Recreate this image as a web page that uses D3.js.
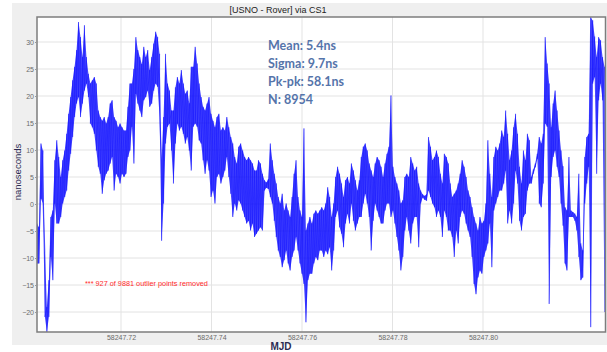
<!DOCTYPE html>
<html>
<head>
<meta charset="utf-8">
<script src="https://cdnjs.cloudflare.com/ajax/libs/d3/7.8.5/d3.min.js"></script>
<style>
  html, body { margin: 0; padding: 0; background: #ffffff; }
  svg { display: block; }
</style>
</head>
<body>
<div id="chart"></div>
<script>
// ---------------- DATA ----------------
const titleText = "[USNO - Rover] via CS1";
const xLabel = "MJD";
const yLabel = "nanoseconds";
const xTicks = [58247.72, 58247.74, 58247.76, 58247.78, 58247.80];
const yTicks = [-20, -15, -10, -5, 0, 5, 10, 15, 20, 25, 30];
const xDomain = [58247.70144, 58247.82707];
const yDomain = [-23.7, 34.63];
const statsLines = ["Mean: 5.4ns", "Sigma: 9.7ns", "Pk-pk: 58.1ns", "N: 8954"];
const outlierNote = "*** 927 of 9881 outlier points removed";

// regular sampling clock of the (decimated) trace
const sampleStart = 58247.70144;
const sampleStep = 0.000437;

// per-sample envelope of the trace (ns): upper and lower excursions
const hiValues = [
  -3.6,-4.3,11.2,9.9,-8.6,-19.1,-14.1,-2.4,-1.2,8.1,11.8,8.7,5.0,8.1,9.9,13.0,16.7,19.8,22.9,25.4,28.5,33.7,30.9,27.2,
  33.1,27.2,24.1,22.3,22.9,23.5,22.3,17.3,16.1,15.4,16.1,14.9,16.1,18.6,19.2,16.1,15.4,14.2,14.9,14.2,13.6,13.6,18.0,22.3,
  22.3,25.0,30.9,28.5,27.2,25.9,29.1,27.2,28.5,24.8,27.2,29.7,31.9,30.9,27.8,8.1,16.1,27.8,22.3,21.0,17.3,17.3,21.6,23.5,
  22.3,24.8,22.3,20.4,21.0,18.6,25.4,25.4,29.1,26.0,22.3,19.8,18.0,17.3,18.6,19.8,16.7,15.4,14.2,16.1,16.7,13.6,14.2,13.6,
  16.1,14.2,12.4,11.2,8.7,7.5,10.6,11.2,9.9,8.7,8.1,8.7,8.1,7.5,6.2,6.2,8.1,7.5,5.6,4.4,4.0,4.6,11.2,8.1,
  5.6,3.8,1.3,0.1,1.9,-1.2,0.1,-1.2,-2.4,1.3,5.6,8.1,1.3,-1.2,-2.4,14.0,-4.9,-3.6,-2.4,-3.6,-1.8,-1.2,-1.8,-1.2,
  -0.6,-1.2,0.1,3.1,1.3,-2.4,0.1,5.0,6.9,5.6,3.8,1.3,4.4,5.0,3.8,7.5,6.2,4.4,2.5,4.4,8.7,10.6,11.2,9.9,
  7.5,6.2,5.0,7.5,8.7,8.1,6.9,5.0,7.5,9.3,10.6,20.1,6.9,5.0,3.8,2.5,0.1,0.7,5.0,5.6,5.0,8.7,7.5,6.2,
  6.9,3.8,2.5,1.8,1.5,1.8,12.4,10.6,8.1,8.7,9.9,8.7,5.6,3.8,9.3,8.7,7.5,3.8,1.3,1.9,2.5,3.8,5.6,8.1,
  6.9,5.0,2.5,1.3,-0.6,-2.4,-3.6,-4.9,-2.4,-3.6,-3.1,0.1,11.8,5.6,1.3,8.7,10.6,9.9,11.2,13.6,12.4,17.3,13.0,8.1,
  9.9,14.2,16.7,13.0,6.9,3.8,9.9,8.1,13.0,11.8,5.0,6.4,7.5,9.3,12.4,11.2,13.0,30.9,26.0,22.3,14.2,18.6,21.0,17.3,
  13.6,9.9,7.0,-0.6,-1.2,8.7,-1.2,-1.5,-1.8,-2.4,5.6,-7.3,-8.6,8.7,12.4,13.0,34.6,34.0,31.0,27.2,30.9,30.3,27.2,25.4
];
const loValues = [
  -11.0,-11.0,1.0,0.1,-20.9,-23.7,-20.9,-9.8,-14.1,0.1,-3.6,-3.6,-2.4,0.1,1.3,2.5,6.2,9.3,12.4,16.1,18.6,19.8,16.1,18.6,
  21.0,22.3,19.8,14.9,14.2,13.0,9.9,6.9,5.6,1.9,4.4,5.6,6.2,7.5,8.7,2.5,5.6,5.0,3.8,5.6,5.0,5.6,8.7,9.9,
  14.3,7.5,20.4,18.6,17.3,16.1,19.2,19.8,21.0,18.0,18.6,21.0,22.3,21.7,16.1,-6.8,0.1,11.2,14.3,14.9,9.9,3.8,11.2,14.9,
  13.6,14.3,13.0,11.2,12.4,9.9,6.2,14.3,14.9,14.3,11.8,11.2,8.1,5.6,8.1,6.2,1.3,2.5,0.1,5.0,5.6,3.8,5.0,6.2,
  8.7,5.0,1.9,-2.4,0.1,-1.2,0.7,0.1,-1.2,-2.4,-3.6,-3.1,-4.9,-3.6,-6.1,-5.5,-4.9,-4.3,-4.9,2.5,3.0,2.8,1.3,0.1,
  -3.1,-6.1,-8.6,-9.8,-11.7,-10.4,-8.6,-11.0,-12.3,-9.8,-8.6,-6.1,-8.6,-11.0,-12.9,-14.8,-21.9,-14.1,-12.9,-12.9,-11.0,-9.8,-10.4,-8.6,
  -8.6,-9.8,-8.6,-9.3,-8.0,-12.3,-8.6,-2.4,-1.2,-4.3,-5.5,-8.0,-3.6,-1.8,-3.6,0.1,-3.1,-4.9,-3.6,-2.4,-2.4,0.1,1.9,0.1,
  -2.4,-8.6,-3.1,0.1,-1.2,-2.4,-3.6,-3.6,-1.2,0.1,0.1,-2.4,-1.2,-3.6,-6.1,-8.6,-12.3,-9.8,-4.9,-2.4,-4.9,-7.3,-3.6,-2.4,
  -2.4,-8.0,0.1,1.2,0.8,0.6,2.5,1.3,0.1,-0.6,-2.4,-1.2,-2.4,-6.1,-1.2,-2.4,-4.9,-4.9,-6.1,-9.8,-4.9,-7.3,-2.4,-1.2,
  -1.8,-3.6,-4.9,-6.1,-9.8,-14.8,-16.7,-13.6,-12.3,-12.9,-9.8,-8.6,-7.3,-3.6,-11.7,-1.2,0.1,1.3,2.5,2.5,3.8,6.2,-3.6,-1.2,
  -3.6,0.1,6.2,3.8,-3.1,-4.9,-2.4,-1.8,2.5,3.8,3.8,5.6,6.8,8.4,0.1,-0.6,3.8,14.9,14.3,-18.5,5.0,8.7,9.9,6.9,
  5.0,0.1,-4.0,-11.0,-12.3,-2.4,-2.4,-2.4,-3.1,-4.9,-9.8,-14.1,-13.6,0.1,3.8,6.9,-22.8,22.3,23.5,5.6,19.2,22.3,19.2,-20.0
];

// ---------------- LAYOUT ----------------
const W = 607, H = 352;
const plot = { left: 37, top: 17, right: 605.5, bottom: 332 };

const svg = d3.select("#chart").append("svg")
  .attr("width", W).attr("height", H);

svg.append("rect").attr("x", 0).attr("y", 0).attr("width", W).attr("height", H).attr("fill", "#ffffff");
svg.append("rect").attr("x", 12).attr("y", 3).attr("width", W - 12).attr("height", 342).attr("fill", "#efefef");
svg.append("rect").attr("x", plot.left).attr("y", plot.top)
  .attr("width", plot.right - plot.left).attr("height", plot.bottom - plot.top)
  .attr("fill", "#ffffff");

const x = d3.scaleLinear().domain(xDomain).range([plot.left, plot.right]);
const y = d3.scaleLinear().domain(yDomain).range([plot.bottom, plot.top]);

// grid
svg.append("g").selectAll("line.h").data(yTicks).join("line")
  .attr("x1", plot.left).attr("x2", plot.right)
  .attr("y1", d => y(d)).attr("y2", d => y(d))
  .attr("stroke", "#e3e3e3").attr("stroke-width", 1);
svg.append("g").selectAll("line.v").data(xTicks).join("line")
  .attr("y1", plot.top).attr("y2", plot.bottom)
  .attr("x1", d => x(d)).attr("x2", d => x(d))
  .attr("stroke", "#e3e3e3").attr("stroke-width", 1);

// trace
const samples = hiValues.map((h, i) => ({ t: sampleStart + i * sampleStep, hi: h, lo: loValues[i] }));
svg.append("clipPath").attr("id", "clip").append("rect")
  .attr("x", plot.left).attr("y", plot.top)
  .attr("width", plot.right - plot.left).attr("height", plot.bottom - plot.top);

const g = svg.append("g").attr("clip-path", "url(#clip)");
g.append("path")
  .datum(samples)
  .attr("d", d3.area().x(d => x(d.t)).y0(d => y(d.lo)).y1(d => y(d.hi)))
  .attr("fill", "#0000ff").attr("fill-opacity", 0.72);

const zig = [];
samples.forEach(d => { zig.push([d.t, d.hi]); zig.push([d.t, d.lo]); });
g.append("path")
  .datum(zig)
  .attr("d", d3.line().x(d => x(d[0])).y(d => y(d[1])))
  .attr("fill", "none").attr("stroke", "#1010ff").attr("stroke-width", 0.8).attr("stroke-opacity", 0.6);

// border
svg.append("rect").attr("x", plot.left).attr("y", plot.top)
  .attr("width", plot.right - plot.left).attr("height", plot.bottom - plot.top)
  .attr("fill", "none").attr("stroke", "#7d7d7d").attr("stroke-width", 1.5);

// axes
const yAxis = d3.axisLeft(y).tickValues(yTicks).tickSize(2).tickPadding(1).tickFormat(d3.format("d"));
const yg = svg.append("g").attr("transform", `translate(${plot.left},0)`).call(yAxis);
yg.select(".domain").remove();
yg.selectAll(".tick line").attr("stroke", "#999");
yg.selectAll("text").attr("font-family", "Liberation Sans, Arial, sans-serif").attr("font-size", 7).attr("fill", "#6a6a6a");

const xAxis = d3.axisBottom(x).tickValues(xTicks).tickSize(0).tickPadding(3).tickFormat(d3.format(".2f"));
const xg = svg.append("g").attr("transform", `translate(0,${plot.bottom})`).call(xAxis);
xg.select(".domain").remove();
xg.selectAll("text").attr("font-family", "Liberation Sans, Arial, sans-serif").attr("font-size", 7).attr("fill", "#6a6a6a");

// titles
svg.append("text").attr("x", 278).attr("y", 13).attr("text-anchor", "middle")
  .attr("font-family", "Liberation Sans, Arial, sans-serif").attr("font-size", 9).attr("fill", "#222")
  .text(titleText);
svg.append("text").attr("x", 281).attr("y", 350).attr("text-anchor", "middle")
  .attr("font-family", "Liberation Sans, Arial, sans-serif").attr("font-size", 10).attr("font-weight", "bold").attr("fill", "#2b2b52")
  .text(xLabel);
svg.append("text").attr("transform", "translate(21,172) rotate(-90)").attr("text-anchor", "middle")
  .attr("font-family", "Liberation Sans, Arial, sans-serif").attr("font-size", 9.5).attr("fill", "#2b2b52")
  .text(yLabel);

// stats
svg.append("g").selectAll("text").data(statsLines).join("text")
  .attr("x", 268).attr("y", (d, i) => 50 + i * 18)
  .attr("font-family", "Lato, sans-serif").attr("font-weight", "bold").attr("font-size", 12.5)
  .attr("fill", "#5574aa")
  .text(d => d);

svg.append("text").attr("x", 85).attr("y", 286)
  .attr("font-family", "Liberation Sans, Arial, sans-serif").attr("font-size", 7.3).attr("fill", "#ff2a2a")
  .text(outlierNote);
</script>
</body>
</html>
